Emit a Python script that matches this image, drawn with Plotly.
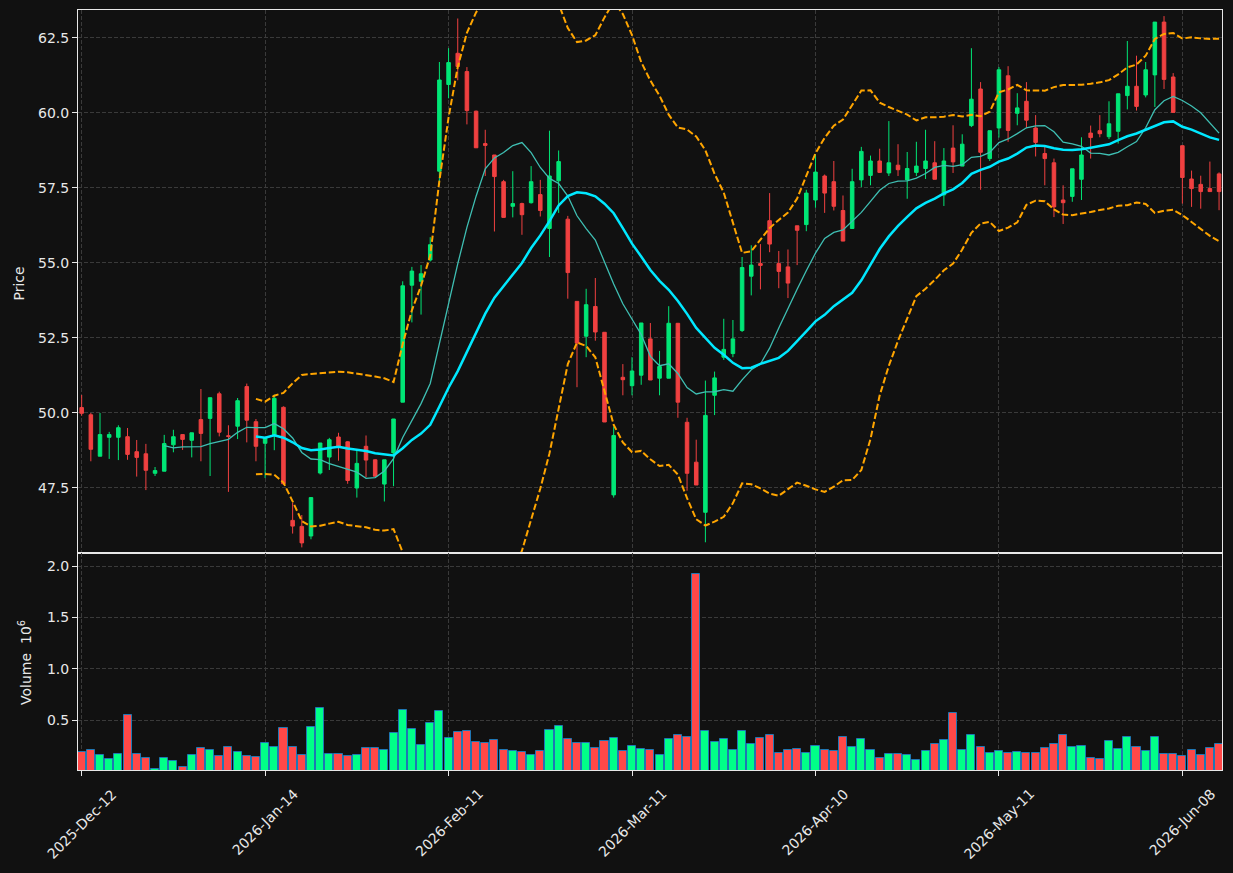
import plotly.graph_objects as go
from plotly.subplots import make_subplots
import pandas as pd

opens = [50.18, 49.94, 48.56, 49.19, 49.19, 49.21, 48.71, 48.64, 47.99, 48.06,
         48.94, 49.28, 49.09, 49.78, 49.82, 50.64, 49.24, 49.56, 50.88, 49.71,
         48.99, 49.25, 50.19, 46.42, 46.22, 45.90, 48.00, 48.53, 49.20, 49.04,
         47.50, 48.89, 48.44, 47.63, 48.67, 50.36, 54.26, 54.39, 55.10, 58.06,
         60.95, 61.99, 61.38, 60.06, 58.98, 58.60, 57.71, 56.89, 56.98, 57.01,
         57.28, 56.15, 57.74, 56.46, 53.72, 52.56, 53.55, 52.69, 47.27, 51.19,
         50.91, 51.26, 52.47, 51.16, 51.16, 52.99, 49.69, 48.36, 46.69, 50.59,
         51.86, 51.98, 52.75, 54.56, 54.98, 56.41, 54.98, 54.87, 56.24, 56.28,
         57.10, 57.90, 57.71, 56.75, 56.15, 57.77, 57.92, 58.40, 58.00, 58.26,
         57.77, 58.02, 58.15, 58.34, 57.27, 58.83, 58.23, 59.58, 60.80, 58.48,
         59.50, 61.24, 59.99, 60.39, 59.50, 58.65, 58.34, 57.10, 57.22, 57.79,
         59.33, 59.41, 59.21, 59.39, 60.58, 60.89, 60.60, 61.27, 63.03, 61.20,
         58.91, 57.80, 57.62, 57.48, 57.97]
highs = [50.60, 50.00, 50.00, 49.37, 49.59, 49.50, 49.10, 48.97, 48.20, 49.27,
         49.44, 49.28, 49.34, 50.80, 50.51, 50.71, 49.59, 50.50, 50.98, 49.80,
         49.20, 50.61, 50.22, 47.00, 46.60, 47.18, 49.00, 49.17, 49.34, 49.06,
         48.76, 49.25, 48.46, 48.44, 49.80, 54.39, 54.87, 54.93, 55.86, 61.70,
         62.16, 63.15, 61.53, 60.08, 59.44, 58.60, 57.77, 58.06, 57.01, 58.23,
         57.77, 59.41, 58.75, 56.57, 53.72, 54.14, 54.50, 52.69, 49.55, 51.63,
         51.86, 53.00, 53.00, 52.07, 53.56, 52.99, 49.84, 49.11, 51.08, 51.38,
         53.14, 53.10, 55.20, 55.59, 55.63, 57.33, 55.40, 55.45, 56.24, 57.44,
         58.63, 57.95, 58.40, 57.25, 58.14, 58.87, 58.58, 58.81, 59.73, 58.96,
         58.70, 59.04, 59.44, 59.06, 58.83, 59.59, 59.29, 62.16, 61.03, 59.41,
         61.53, 61.56, 60.66, 61.03, 59.93, 58.87, 58.48, 57.59, 58.14, 59.19,
         59.58, 59.93, 60.39, 60.64, 62.40, 61.91, 61.70, 63.03, 63.23, 61.33,
         58.91, 58.08, 57.91, 58.38, 58.02]
lows = [49.91, 48.39, 48.56, 48.47, 48.43, 48.44, 47.88, 47.43, 47.90, 48.06,
        48.69, 48.77, 48.52, 48.39, 47.90, 49.22, 47.37, 49.13, 49.02, 48.39,
        47.83, 48.76, 47.60, 45.98, 45.52, 45.79, 47.95, 48.10, 48.41, 47.64,
        47.18, 47.86, 47.87, 47.05, 47.56, 50.36, 53.02, 53.28, 55.05, 57.59,
        60.49, 61.09, 59.62, 58.84, 57.90, 56.05, 56.52, 56.52, 55.94, 56.98,
        56.55, 55.20, 56.67, 53.81, 50.86, 51.86, 52.41, 49.70, 47.18, 50.59,
        50.59, 50.94, 51.10, 50.59, 51.16, 49.84, 47.41, 47.60, 45.69, 49.93,
        51.77, 51.86, 52.70, 53.92, 54.12, 55.36, 54.16, 53.83, 54.93, 56.06,
        56.84, 56.67, 56.75, 55.73, 56.15, 57.53, 57.59, 58.00, 57.90, 57.90,
        57.14, 57.90, 57.80, 57.79, 56.90, 58.00, 58.23, 59.53, 57.44, 58.40,
        59.18, 59.04, 59.59, 59.50, 58.55, 57.59, 56.53, 56.30, 57.04, 57.10,
        58.48, 59.19, 59.13, 58.98, 60.12, 60.08, 60.52, 60.20, 60.80, 60.02,
        56.98, 56.87, 56.81, 57.38, 56.76]
closes = [49.99, 48.79, 49.28, 49.28, 49.51, 48.62, 48.52, 48.09, 48.08, 48.98,
          49.21, 49.12, 49.34, 49.32, 50.51, 49.36, 49.22, 50.41, 49.76, 48.89,
          49.17, 50.49, 47.64, 46.23, 45.67, 47.18, 49.00, 49.11, 48.88, 47.75,
          48.32, 48.43, 47.89, 48.44, 49.80, 54.24, 54.73, 54.64, 55.61, 61.10,
          61.68, 61.55, 60.08, 58.84, 58.92, 57.88, 56.52, 56.98, 56.61, 57.71,
          56.75, 57.90, 58.38, 54.68, 52.33, 53.61, 52.70, 49.70, 49.25, 51.11,
          51.40, 53.00, 51.10, 51.55, 52.99, 50.36, 47.99, 47.60, 49.92, 51.17,
          52.12, 52.47, 54.85, 54.93, 54.92, 55.63, 54.72, 54.33, 56.09, 57.33,
          58.03, 57.33, 56.89, 55.73, 57.71, 58.72, 58.40, 58.02, 58.34, 58.11,
          58.15, 58.23, 58.40, 57.79, 58.40, 58.37, 58.96, 60.46, 58.69, 59.41,
          61.44, 59.42, 60.17, 59.76, 59.02, 58.48, 56.87, 57.01, 58.14, 58.60,
          59.18, 59.31, 59.64, 60.64, 60.89, 60.22, 61.44, 63.03, 61.12, 60.02,
          57.85, 57.48, 57.38, 57.38, 57.38]
volumes = [0.188, 0.208, 0.159, 0.120, 0.169, 0.549, 0.169, 0.130, 0.020, 0.130,
           0.100, 0.042, 0.159, 0.227, 0.208, 0.149, 0.237, 0.188, 0.149, 0.140,
           0.276, 0.237, 0.422, 0.237, 0.159, 0.432, 0.617, 0.169, 0.169, 0.149,
           0.159, 0.227, 0.227, 0.208, 0.373, 0.597, 0.412, 0.256, 0.471, 0.588,
           0.325, 0.383, 0.393, 0.286, 0.276, 0.305, 0.208, 0.198, 0.188, 0.159,
           0.198, 0.403, 0.442, 0.315, 0.276, 0.276, 0.227, 0.295, 0.325, 0.198,
           0.247, 0.218, 0.208, 0.159, 0.315, 0.354, 0.334, 1.922, 0.393, 0.286,
           0.315, 0.208, 0.393, 0.266, 0.325, 0.354, 0.179, 0.208, 0.218, 0.179,
           0.247, 0.208, 0.198, 0.334, 0.237, 0.315, 0.208, 0.130, 0.169, 0.169,
           0.159, 0.110, 0.198, 0.266, 0.305, 0.568, 0.208, 0.354, 0.237, 0.179,
           0.198, 0.179, 0.188, 0.179, 0.179, 0.227, 0.266, 0.354, 0.237, 0.247,
           0.130, 0.120, 0.295, 0.218, 0.334, 0.237, 0.198, 0.334, 0.169, 0.169,
           0.149, 0.208, 0.159, 0.227, 0.266]
tick_labels = ["2025-Dec-12", "2026-Jan-14", "2026-Feb-11", "2026-Mar-11",
               "2026-Apr-10", "2026-May-11", "2026-Jun-08"]
tick_step = 20

UP = "#00e676"
DN = "#f04040"
VUP = "#00ff88"
VDN = "#ff4848"
TXT = "#e8e8e8"
GRID = "#3a3a3a"
BG = "#111111"

idx = list(range(len(closes)))
tick_idx = [k * tick_step for k in range(len(tick_labels))]

s = pd.Series(closes)
ma10 = s.rolling(10).mean()
ma20 = s.rolling(20).mean()
sd20 = s.rolling(20).std(ddof=0)
bb_up = ma20 + 2 * sd20
bb_lo = ma20 - 2 * sd20

vcolors = [VUP if c >= o else VDN for o, c in zip(opens, closes)]

fig = make_subplots(rows=2, cols=1, shared_xaxes=True, vertical_spacing=0)

fig.add_trace(go.Candlestick(
    x=idx, open=opens, high=highs, low=lows, close=closes,
    increasing=dict(line=dict(color=UP, width=1), fillcolor=UP),
    decreasing=dict(line=dict(color=DN, width=1), fillcolor=DN),
    whiskerwidth=0, showlegend=False, hoverinfo="skip"), row=1, col=1)

dash_bb = "6.5px,2.7px"
fig.add_trace(go.Scatter(x=idx, y=bb_up, mode="lines",
                         line=dict(color="#ffa500", width=2, dash=dash_bb),
                         showlegend=False), row=1, col=1)
fig.add_trace(go.Scatter(x=idx, y=bb_lo, mode="lines",
                         line=dict(color="#ffa500", width=2, dash=dash_bb),
                         showlegend=False), row=1, col=1)
fig.add_trace(go.Scatter(x=idx, y=ma10, mode="lines",
                         line=dict(color="#3fbfb3", width=1.3),
                         showlegend=False), row=1, col=1)
fig.add_trace(go.Scatter(x=idx, y=ma20, mode="lines",
                         line=dict(color="#00e8ff", width=2.5),
                         showlegend=False), row=1, col=1)

fig.add_trace(go.Bar(x=idx, y=volumes, width=0.88,
                     marker=dict(color=vcolors, line=dict(color="#1f77b4", width=1)),
                     showlegend=False), row=2, col=1)

axis_common = dict(showline=True, linecolor="#e8e8e8", linewidth=1, mirror=True,
                   showgrid=True, gridcolor=GRID, gridwidth=1, griddash="4px,2px",
                   zeroline=False, tickfont=dict(family="DejaVu Sans", size=14, color=TXT))

fig.update_xaxes(**axis_common, range=[-0.4, 124.32], tickvals=tick_idx,
                 showticklabels=False, rangeslider_visible=False)
fig.update_xaxes(ticks="outside", ticklen=5, tickcolor="#e8e8e8", row=2, col=1)
fig.update_yaxes(**axis_common, ticks="outside", ticklen=5, tickcolor="#e8e8e8")
fig.update_layout(
    yaxis=dict(domain=[217 / 760, 1], range=[45.333, 63.433],
               tickvals=[47.5, 50, 52.5, 55, 57.5, 60, 62.5], tickformat=".1f"),
    yaxis2=dict(domain=[0, 217 / 760], range=[0.013, 2.127],
                tickvals=[0.5, 1.0, 1.5, 2.0], tickformat=".1f"),
)

annotations = []
for ti, lab in zip(tick_idx, tick_labels):
    annotations.append(dict(x=ti, y=-13 / 760, xref="x2", yref="paper", text=lab,
                            showarrow=False, textangle=-45, xanchor="center", yanchor="top",
                            font=dict(family="DejaVu Sans", size=14, color=TXT)))
annotations.append(dict(x=(18.5 - 78) / 1144, y=(770 - 284) / 760, xref="paper", yref="paper",
                        text="Price", showarrow=False, textangle=-90,
                        xanchor="center", yanchor="middle",
                        font=dict(family="DejaVu Sans", size=14, color=TXT)))
annotations.append(dict(x=(25 - 78) / 1144, y=(770 - 663) / 760, xref="paper", yref="paper",
                        text="Volume  10<sup>6</sup>", showarrow=False, textangle=-90,
                        xanchor="center", yanchor="middle",
                        font=dict(family="DejaVu Sans", size=14, color=TXT)))

fig.update_layout(
    width=1233, height=873,
    margin=dict(l=78, r=11, t=10, b=103),
    paper_bgcolor=BG, plot_bgcolor=BG,
    boxgap=0.45, bargap=0,
    showlegend=False,
    annotations=annotations,
    font=dict(family="DejaVu Sans", color=TXT),
)

fig.write_html("out.html")
